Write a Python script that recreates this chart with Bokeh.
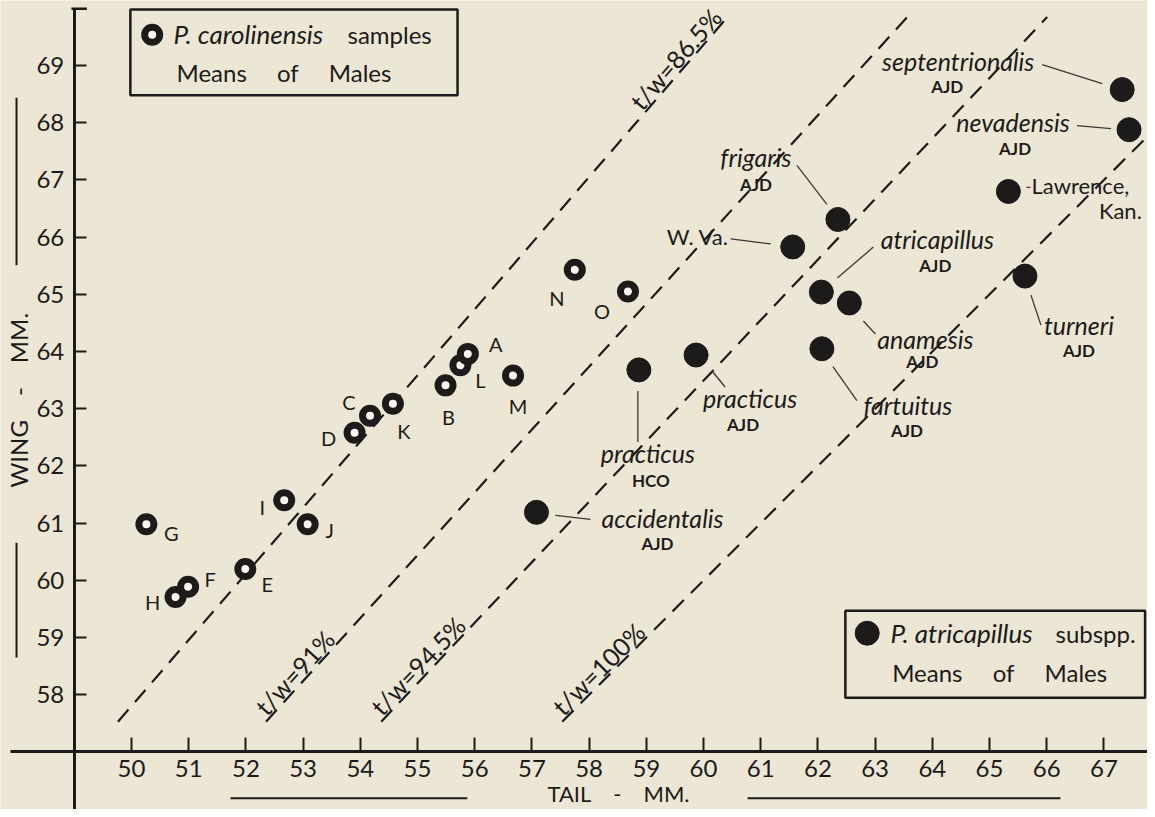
import numpy as np
from bokeh.plotting import figure
from bokeh.models import FixedTicker, Range1d
from bokeh.core.properties import value
from bokeh.embed import file_html
from bokeh.resources import INLINE

# ---------------- data ----------------
# P. carolinensis samples, means of males (tail mm, wing mm)
car_id   = ["G", "H", "F", "E", "I", "J", "K", "C", "D", "B", "L", "A", "M", "N", "O"]
car_tail = [50.26, 50.77, 50.99, 51.99, 52.67, 53.08, 54.57, 54.17, 53.90, 55.49, 55.75, 55.88, 56.67, 57.75, 58.68]
car_wing = [60.98, 59.71, 59.89, 60.20, 61.40, 60.98, 63.09, 62.88, 62.58, 63.41, 63.76, 63.96, 63.58, 65.43, 65.05]

# P. atricapillus subspp., means of males
atr_name = ["septentrionalis", "nevadensis", "Lawrence,", "frigaris", "W. Va.", "atricapillus",
            "anamesis", "turneri", "fartuitus", "practicus", "practicus", "accidentalis"]
atr_src  = ["AJD", "AJD", "Kan.", "AJD", "", "AJD", "AJD", "AJD", "AJD", "AJD", "HCO", "AJD"]
atr_tail = [67.32, 67.44, 65.33, 62.35, 61.56, 62.06, 62.55, 65.62, 62.07, 59.87, 58.87, 57.08]
atr_wing = [68.58, 67.88, 66.80, 66.31, 65.83, 65.04, 64.85, 65.32, 64.05, 63.94, 63.68, 61.19]

# tail/wing ratio reference lines
ratio = [0.865, 0.91, 0.945, 1.00]
ratio_label = ["t/w=86.5%", "t/w=91%", "t/w=94.5%", "t/w=100%"]

x_ticks = list(range(50, 68))
y_ticks = list(range(58, 70))

# ---------------- layout / style ----------------
INK = "#1c1b19"
BG = "#ece6d5"
HOLE = "#f9f7f0"
FONT = value("Lato")
PX = 57.2          # pixels per mm (both axes)
W_IN, H_IN = 1147, 809
X0, Y1 = 47.7098, 70.1381
X1 = X0 + W_IN / PX
Y0 = Y1 - H_IN / PX
SP = "\u2002\u2002"

def ox(t, dx):
    return t + dx / PX

def oy(w, dy):
    return w - dy / PX

p = figure(width=W_IN, height=H_IN, x_range=Range1d(X0, X1), y_range=Range1d(Y0, Y1),
           output_backend="svg", toolbar_location=None, min_border=0,
           background_fill_color=BG, border_fill_color=BG)
p.outline_line_color = None
p.grid.visible = False

for ax in (p.xaxis[0], p.yaxis[0]):
    ax.axis_line_width = 3
    ax.axis_line_color = INK
    ax.major_tick_line_width = 2
    ax.major_tick_line_color = INK
    ax.minor_tick_line_color = None
    ax.major_tick_out = 0
    ax.major_label_text_font = "Lato"
    ax.major_label_text_font_size = "24px"
    ax.major_label_text_color = INK
p.xaxis.fixed_location = 57.0
p.yaxis.fixed_location = 49.0
p.xaxis.bounds = (47.88, 67.9)
p.yaxis.bounds = (55.99, 70.0)
p.xaxis.ticker = FixedTicker(ticks=x_ticks)
p.yaxis.ticker = FixedTicker(ticks=y_ticks)
p.xaxis.major_tick_in = 14
p.yaxis.major_tick_in = 12
p.xaxis.major_label_standoff = 8
p.yaxis.major_label_standoff = 10
# small serif at the top of the wing axis
p.segment(x0=[48.95], y0=[69.995], x1=[49.22], y1=[69.995], line_color=INK, line_width=2.5)

# ratio lines  (wing = tail / ratio)
w_lo, w_hi = 57.53, 69.85
r = np.array(ratio)
p.segment(x0=r * w_lo, y0=np.full(len(r), w_lo), x1=r * w_hi, y1=np.full(len(r), w_hi),
          line_color=INK, line_width=2.2, line_dash="16 10")
ang = np.arctan(1.0 / r)
d = 12.0
for i, lab in enumerate(ratio_label):
    if i == 0:
        wa, align = 69.80, "right"
    else:
        wa, align = w_lo + 0.05, "left"
    ta = r[i] * wa
    p.text(x=[ox(ta, -np.sin(ang[i]) * d)], y=[oy(wa, -np.cos(ang[i]) * d)], text=[lab],
           angle=[ang[i]], text_align=align, text_baseline="middle",
           text_font=FONT, text_font_size="25px", text_color=INK)

# carolinensis rings
p.scatter(car_tail, car_wing, marker="circle", size=15, fill_color=HOLE,
          line_color=INK, line_width=7)
car_off = {"G": (25, 9), "H": (-23, 5), "F": (22, -8), "E": (22, 15), "I": (-22, 7),
           "J": (22, 6), "K": (11, 27), "C": (-21, -14), "D": (-26, 5), "B": (3, 32),
           "L": (20, 15), "A": (28, -10), "M": (5, 30), "N": (-18, 28), "O": (-26, 19)}
p.text(x=[ox(t, car_off[c][0]) for c, t in zip(car_id, car_tail)],
       y=[oy(w, car_off[c][1]) for c, w in zip(car_id, car_wing)],
       text=car_id, text_align="center", text_baseline="middle",
       text_font=FONT, text_font_size="20px", text_color=INK)

# atricapillus dots
p.scatter(atr_tail, atr_wing, marker="circle", size=24, fill_color=INK, line_color=INK)

# per-label layout: name offset, source offset, leader start, leader end, italic
atr_lay = [
    ((-164, -29), (-175, -3), (-80, -25), (-20, -6), True),
    ((-116, -8), (-114, 19), (-52, -4), (-18, -1), True),
    ((72, -6), (112, 19), (18, -4), (22, -4), False),
    ((-82, -62), (-82, -35), (-41, -54), (-11, -15), True),
    ((-95, -10), (0, 0), (-62, -8), (-22, -3), False),
    ((116, -53), (114, -27), (16, -14), (52, -45), True),
    ((76, 36), (73, 59), (14, 18), (26, 31), True),
    ((54, 49), (54, 74), (6, 19), (16, 49), True),
    ((86, 56), (85, 82), (11, 18), (35, 52), True),
    ((54, 43), (47, 69), (16, 16), (29, 32), True),
    ((9, 83), (12, 111), (-1, 21), (-1, 72), True),
    ((126, 6), (121, 31), (19, 3), (54, 7), True),
]
p.segment(x0=[ox(t, L[2][0]) for t, L in zip(atr_tail, atr_lay)],
          y0=[oy(w, L[2][1]) for w, L in zip(atr_wing, atr_lay)],
          x1=[ox(t, L[3][0]) for t, L in zip(atr_tail, atr_lay)],
          y1=[oy(w, L[3][1]) for w, L in zip(atr_wing, atr_lay)],
          line_color="#3a3936", line_width=1.3)
for style in (True, False):
    idx = [i for i, L in enumerate(atr_lay) if L[4] == style]
    p.text(x=[ox(atr_tail[i], atr_lay[i][0][0]) for i in idx],
           y=[oy(atr_wing[i], atr_lay[i][0][1]) for i in idx],
           text=[atr_name[i] for i in idx], text_align="center", text_baseline="middle",
           text_font=FONT, text_font_size="25px" if style else "22px",
           text_font_style="italic" if style else "normal", text_color=INK)
idx = [i for i in range(len(atr_src)) if atr_src[i]]
src_small = [i for i in idx if atr_src[i] != "Kan."]
p.text(x=[ox(atr_tail[i], atr_lay[i][1][0]) for i in src_small],
       y=[oy(atr_wing[i], atr_lay[i][1][1]) for i in src_small],
       text=[atr_src[i] for i in src_small], text_align="center", text_baseline="middle",
       text_font=FONT, text_font_size="17px", text_font_style="bold", text_color=INK)
kan = [i for i in idx if atr_src[i] == "Kan."]
p.text(x=[ox(atr_tail[i], atr_lay[i][1][0]) for i in kan],
       y=[oy(atr_wing[i], atr_lay[i][1][1]) for i in kan],
       text=[atr_src[i] for i in kan], text_align="center", text_baseline="middle",
       text_font=FONT, text_font_size="22px", text_color=INK)

# legends
p.quad(left=[49.98, 62.48], right=[55.70, 67.72], top=[69.98, 59.47], bottom=[68.48, 57.95],
       fill_color=BG, line_color=INK, line_width=2.5)
p.scatter([50.362], [69.538], marker="circle", size=15, fill_color=HOLE,
          line_color=INK, line_width=7)
p.scatter([62.862], [59.077], marker="circle", size=24, fill_color=INK, line_color=INK)
p.text(x=[50.734, 63.269], y=[69.544, 59.072], text=["P. carolinensis", "P. atricapillus"],
       text_align="left", text_baseline="middle", text_font=FONT, text_font_size="26px",
       text_font_style="italic", text_color=INK)
p.text(x=[53.776, 66.154], y=[69.544, 59.072], text=["samples", "subspp."],
       text_align="left", text_baseline="middle", text_font=FONT, text_font_size="24px",
       text_color=INK)
mom = "Means" + SP + " of" + SP + " Males"
p.text(x=[50.787, 63.299], y=[68.885, 58.395], text=[mom, mom],
       text_align="left", text_baseline="middle", text_font=FONT, text_font_size="24px",
       text_color=INK)

# axis titles with flanking rules
p.text(x=[48.02], y=[63.15], text=["WING" + SP + "-" + SP + "MM."], angle=[np.pi / 2],
       text_align="center", text_baseline="middle", text_font=FONT,
       text_font_size="24px", text_color=INK)
p.text(x=[58.514], y=[56.274], text=["TAIL" + SP + "-" + SP + "MM."],
       text_align="center", text_baseline="middle", text_font=FONT,
       text_font_size="22px", text_color=INK)
p.segment(x0=[47.99, 47.99, 51.73, 60.77], y0=[68.44, 60.66, 56.19, 56.19],
          x1=[47.99, 47.99, 55.87, 66.24], y1=[65.51, 58.65, 56.19, 56.19],
          line_color=INK, line_width=2)

open("out.html", "w").write(file_html(p, INLINE))
